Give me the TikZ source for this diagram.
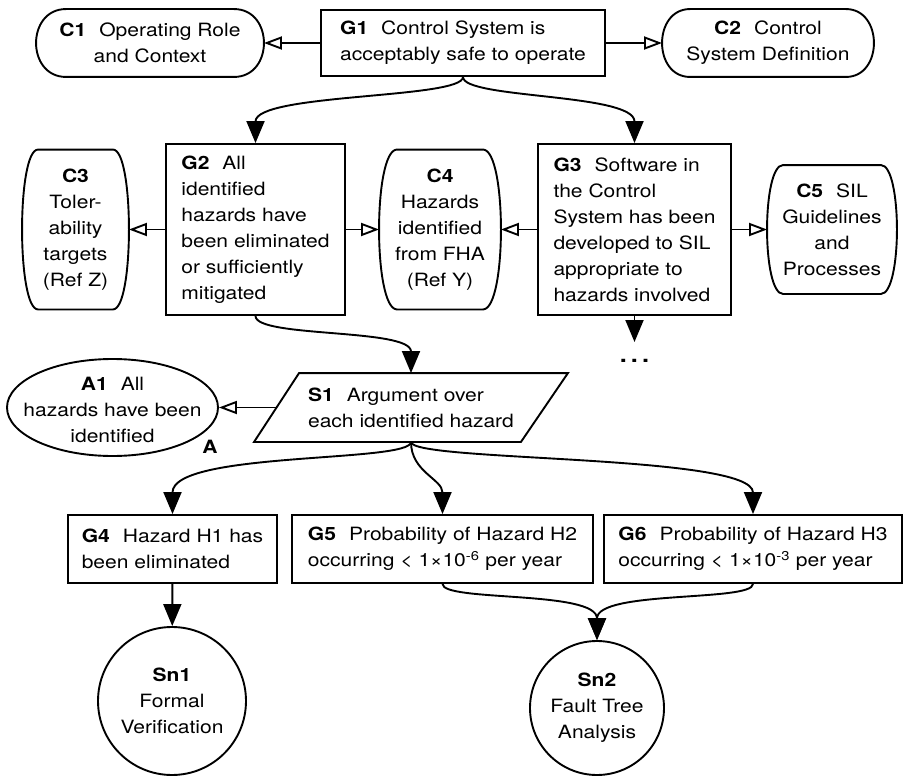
\documentclass[tikz,border=0pt]{standalone}
\usepackage{fontspec}
\setmainfont{TeX Gyre Heros}[FakeStretch=1.15]
\usetikzlibrary{arrows.meta,shapes.geometric}

% bold identifier followed by a gap
\newcommand\gid[1]{\textbf{#1}\hspace{13pt}}
% context outline: flat top and bottom, bowed sides
\newcommand\ctxoutline[2]{%
  \draw ([xshift=#2]#1.north west) -- ([xshift=-#2]#1.north east)
    .. controls ([xshift=#2/3]#1.north east) and ([xshift=#2/3]#1.south east) .. ([xshift=-#2]#1.south east)
    -- ([xshift=#2]#1.south west)
    .. controls ([xshift=-#2/3]#1.south west) and ([xshift=-#2/3]#1.north west) .. cycle;}

\begin{document}
\begin{tikzpicture}[x=1pt, y=-1pt, line width=1.9pt,
  every node/.style={font=\fontsize{18.3}{26}\selectfont},
  goal/.style={draw, rectangle, inner sep=0pt, align=left},
  ctx/.style={rectangle, inner sep=0pt, align=center},
  sol/.style={circle, draw, inner sep=0pt, align=center},
  solidarrow/.style={-{Triangle[length=22pt,width=18pt]}},
  ctxarrow/.style={-{Triangle[open,length=18pt,width=13pt]}}]

\path[use as bounding box, fill=white] (0,0) rectangle (903,776);

% top level goal and its contexts
\node[goal, minimum width=284pt, minimum height=66pt] (G1) at (463,43)
  {\gid{G1}Control System is\\acceptably safe to operate};
\node[ctx, minimum width=226pt, minimum height=66pt] (C1) at (150,43)
  {\gid{C1}Operating Role\\and Context};
\node[ctx, minimum width=210pt, minimum height=66pt] (C2) at (768,43)
  {\gid{C2}Control\\System Definition};

% second level goals and contexts
\node[goal, minimum width=179pt, minimum height=171pt] (G2) at (255.5,229.5)
  {\gid{G2}All\\identified\\hazards have\\been eliminated\\or sufficiently\\mitigated};
\node[goal, minimum width=193pt, minimum height=171pt] (G3) at (634.5,229.5)
  {\gid{G3}Software in\\the Control\\System has been\\developed to SIL\\appropriate to\\hazards involved};
\node[ctx, minimum width=105pt, minimum height=158pt] (C3) at (75.5,229.5)
  {\textbf{C3}\\Toler-\\ability\\targets\\(Ref Z)};
\node[ctx, minimum width=120pt, minimum height=158pt] (C4) at (440,229.5)
  {\textbf{C4}\\Hazards\\identified\\from FHA\\(Ref Y)};
\node[ctx, minimum width=128pt, minimum height=127pt] (C5) at (832,229.5)
  {\gid{C5}SIL\\Guidelines\\and\\Processes};
\node[font=\fontsize{22}{26}\selectfont\bfseries, anchor=north, inner sep=0pt, text height=20pt] (more) at (634.5,342)
  {.\hspace{4pt}.\hspace{4pt}.};

% strategy and assumption
\node[rectangle, inner sep=0pt, minimum width=312pt, minimum height=67pt, align=left] (S1) at (411,407.5)
  {\gid{S1}Argument over\\each identified hazard};
\draw ([xshift=45pt]S1.north west) -- (S1.north east) -- ([xshift=-47pt]S1.south east) -- (S1.south west) -- cycle;
\coordinate (S1l) at ([xshift=22.5pt]S1.west);
\node[ellipse, draw, minimum width=211pt, minimum height=97pt, inner sep=0pt,
  label={[align=center, yshift=-2pt]center:{\gid{A1}All\\hazards have been\\identified}}] (A1) at (112.5,407.5) {};
\node[font=\fontsize{18.3}{26}\selectfont\bfseries, inner sep=0pt] (A1tag) at (210,447) {A};

% hazard goals
\node[goal, minimum width=209pt, minimum height=68pt] (G4) at (172.5,549)
  {\gid{G4}Hazard H1 has\\been eliminated};
\node[goal, minimum width=301pt, minimum height=68pt] (G5) at (442.5,549)
  {\gid{G5}Probability of Hazard H2\\occurring < 1×10\textsuperscript{-6} per year};
\node[goal, minimum width=298pt, minimum height=68pt] (G6) at (753,549)
  {\gid{G6}Probability of Hazard H3\\occurring < 1×10\textsuperscript{-3} per year};

% solutions
\node[sol, minimum size=148pt] (Sn1) at (172,701) {\textbf{Sn1}\\Formal\\Verification};
\node[sol, minimum size=134pt] (Sn2) at (597,708) {\textbf{Sn2}\\Fault Tree\\Analysis};

% context outlines
\ctxoutline{C1}{30pt}
\ctxoutline{C2}{28pt}
\ctxoutline{C3}{16pt}
\ctxoutline{C4}{18pt}
\ctxoutline{C5}{16pt}

% in-context-of links
\draw[ctxarrow] (G1) -- (C1);
\draw[ctxarrow] (G1) -- (C2);
\draw[ctxarrow] (G2) -- (C3);
\draw[ctxarrow] (G2) -- (C4);
\draw[ctxarrow] (G3) -- (C4);
\draw[ctxarrow] (G3) -- (C5);
\draw[ctxarrow] (S1l) -- (A1.east);

% supported-by links
\draw[solidarrow] (G1.south) .. controls +(0,22) and +(0,-50) .. (G2.north);
\draw[solidarrow] (G1.south) .. controls +(0,22) and +(0,-50) .. (G3.north);
\draw[solidarrow] (G3) -- (more);
\draw[solidarrow] (G2.south) .. controls +(0,22) and +(0,-45) .. (S1.north);
\draw[solidarrow] (S1.south) .. controls +(0,21) and +(0,-63) .. (G4.north);
\draw[solidarrow] (S1.south) .. controls +(0,30) and +(0,-35) .. (G5.north);
\draw[solidarrow] (S1.south) .. controls +(0,20) and +(0,-60) .. (G6.north);
\draw[solidarrow] (G4) -- (Sn1);
\draw[solidarrow] (G5.south) .. controls +(0,18) and +(0,-50) .. (Sn2.north);
\draw[solidarrow] (G6.south) .. controls +(0,18) and +(0,-50) .. (Sn2.north);
\end{tikzpicture}
\end{document}
